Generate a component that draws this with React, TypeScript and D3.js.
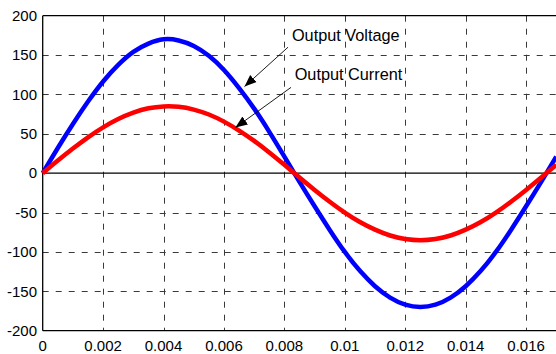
import { useRef, useEffect } from 'react';
import * as d3 from 'd3';

// sample times (s)
const times = [0, 0.0005, 0.001, 0.0015, 0.002, 0.0025, 0.003, 0.0035, 0.004, 0.0045, 0.005, 0.0055,
    0.006, 0.0065, 0.007, 0.0075, 0.008, 0.0085, 0.009, 0.0095, 0.01, 0.0105, 0.011, 0.0115,
    0.012, 0.0125, 0.013, 0.0135, 0.014, 0.0145, 0.015, 0.0155, 0.016, 0.0165, 0.017];
const voltage = [0, 32, 62.5, 91, 116.5, 137.5, 154, 164.5, 170, 168.5, 161.5, 149,
    131, 108, 82, 52.5, 21, -11, -42, -72, -100, -124, -143.5, -158,
    -167, -170, -167, -158, -143.5, -124, -100, -72, -42, -11, 21];
const current = [0, 16, 31.3, 45.6, 58.2, 68.8, 76.9, 82.4, 84.8, 84.3, 80.8, 74.5,
    65.5, 54.1, 41, 26.3, 10.6, -5.4, -21.2, -36.2, -50, -62, -71.7, -79.1,
    -83.5, -85, -83.5, -79.1, -71.7, -62, -50, -36.2, -21.2, -5.4, 10.6];

const xTicks = [0, 0.002, 0.004, 0.006, 0.008, 0.01, 0.012, 0.014, 0.016];
const yTicks = [200, 150, 100, 50, 0, -50, -100, -150, -200];

// label text, text position [t, value], arrow start, arrow tip
const notes: [string, [number, number], [number, number], [number, number]][] = [
    ["Output Voltage", [0.00825, 168], [0.00812, 160], [0.00668, 110]],
    ["Output Current", [0.00834, 118], [0.00822, 109], [0.00638, 58]],
];

export default function App() {
    const ref = useRef<SVGSVGElement>(null);

    useEffect(() => {
        const svg = d3.select(ref.current);
        svg.selectAll("*").remove();

        const x = d3.scaleLinear().domain([0, 0.017]).range([42.7, 556.3]);
        const y = d3.scaleLinear().domain([-200, 200]).range([330.7, 15.7]);
        const font = "'Liberation Sans', Arial, sans-serif";

        svg.append("defs").append("marker")
            .attr("id", "head")
            .attr("viewBox", "0 0 10 10")
            .attr("refX", 10).attr("refY", 5)
            .attr("markerWidth", 12).attr("markerHeight", 12)
            .attr("markerUnits", "userSpaceOnUse")
            .attr("orient", "auto")
            .append("path").attr("d", "M0,1 L10,5 L0,9 Z").attr("fill", "black");

        svg.append("clipPath").attr("id", "plot")
            .append("rect")
            .attr("x", x(0) - 3).attr("y", y(200))
            .attr("width", 556 - x(0) + 3).attr("height", y(-200) - y(200));

        // grid
        const grid = svg.append("g").attr("stroke", "#3a3a3a").attr("stroke-width", 1);
        grid.selectAll("line.v")
            .data(xTicks.filter((d) => d > 0))
            .enter().append("line")
            .attr("x1", (d) => Math.round(x(d)) + 0.5).attr("x2", (d) => Math.round(x(d)) + 0.5)
            .attr("y1", y(200)).attr("y2", y(-200))
            .attr("stroke-dasharray", "6,7");
        grid.selectAll("line.h")
            .data(yTicks.filter((d) => d !== 200 && d !== -200 && d !== 0))
            .enter().append("line")
            .attr("x1", x(0)).attr("x2", 556)
            .attr("y1", (d) => Math.round(y(d)) + 0.5).attr("y2", (d) => Math.round(y(d)) + 0.5)
            .attr("stroke-dasharray", "6,7");

        // frame and zero line
        const frame = svg.append("g").attr("stroke", "black").attr("stroke-width", 1.3);
        frame.append("line").attr("x1", x(0)).attr("x2", x(0)).attr("y1", y(200)).attr("y2", y(-200));
        frame.append("line").attr("x1", x(0)).attr("x2", 556).attr("y1", y(200)).attr("y2", y(200));
        frame.append("line").attr("x1", x(0)).attr("x2", 556).attr("y1", y(-200)).attr("y2", y(-200));
        frame.append("line").attr("x1", x(0)).attr("x2", 556).attr("y1", y(0)).attr("y2", y(0));

        // tick labels
        svg.append("g").selectAll("text")
            .data(yTicks).enter().append("text")
            .attr("x", 37).attr("y", (d) => y(d))
            .attr("dy", "0.35em")
            .attr("text-anchor", "end")
            .style("font-family", font).style("font-size", "15px")
            .text((d) => d);
        svg.append("g").selectAll("text")
            .data(xTicks).enter().append("text")
            .attr("x", (d) => x(d)).attr("y", y(-200) + 20)
            .attr("text-anchor", "middle")
            .style("font-family", font).style("font-size", "15px")
            .text((d) => d);

        // curves
        const plot = svg.append("g").attr("clip-path", "url(#plot)");
        const series: [number[], string][] = [[voltage, "#0000ff"], [current, "#ff0000"]];
        series.forEach(([vals, color]) => {
            const line = d3.line<number>()
                .x((_, i) => x(times[i]))
                .y((d) => y(d))
                .curve(d3.curveNatural);
            plot.append("path")
                .datum(vals)
                .attr("d", line)
                .attr("fill", "none")
                .attr("stroke", color)
                .attr("stroke-width", 4.5)
                .attr("stroke-linejoin", "round");
        });

        // annotations
        notes.forEach(([label, pos, from, to]) => {
            svg.append("text")
                .attr("x", x(pos[0])).attr("y", y(pos[1]))
                .style("font-family", font).style("font-size", "16.3px")
                .text(label);
            svg.append("line")
                .attr("x1", x(from[0])).attr("y1", y(from[1]))
                .attr("x2", x(to[0])).attr("y2", y(to[1]))
                .attr("stroke", "black").attr("stroke-width", 0.9)
                .attr("marker-end", "url(#head)");
        });

        return () => {
            svg.selectAll("*").remove();
        };
    }, [ref]);

    return (
        <svg ref={ref} width={556} height={354}
            style={{ position: "absolute", left: 0, top: 0, background: "white" }} />
    );
}
